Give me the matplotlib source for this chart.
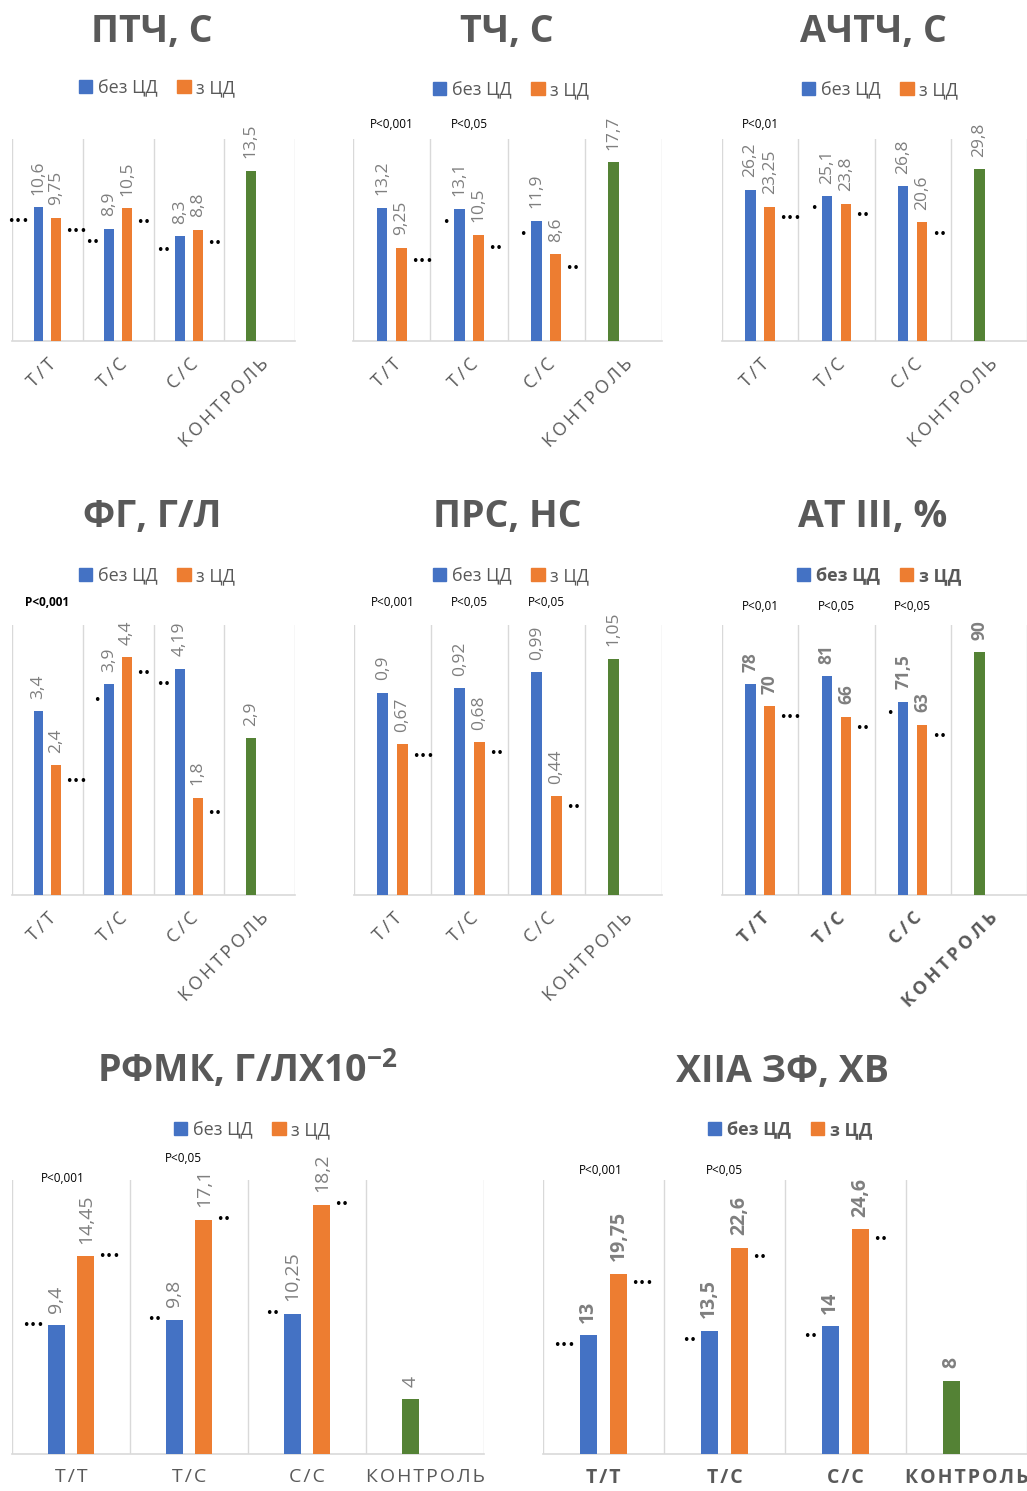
import numpy as np
import matplotlib.pyplot as plt
from matplotlib.patches import Patch

plt.rcParams['font.family'] = ['Open Sans', 'DejaVu Sans']
plt.rcParams['mathtext.fontset'] = 'custom'
plt.rcParams['mathtext.rm'] = 'Open Sans'
plt.rcParams['mathtext.bf'] = 'Open Sans:bold'

# ---- data ----
categories = ['Т/Т', 'Т/С', 'С/С', 'КОНТРОЛЬ']
series_names = ['без ЦД', 'з ЦД']

titles = ['ПТЧ, С', 'ТЧ, С', 'АЧТЧ, С',
          'ФГ, Г/Л', 'ПРС, НС', 'АТ ІІІ, %',
          r'РФМК, Г/ЛХ10$^{\mathbf{-2}}$', 'ХІІА ЗФ, ХВ']

no_dm = [[10.6, 8.9, 8.3], [13.2, 13.1, 11.9], [26.2, 25.1, 26.8],
         [3.4, 3.9, 4.19], [0.9, 0.92, 0.99], [78, 81, 71.5],
         [9.4, 9.8, 10.25], [13, 13.5, 14]]
with_dm = [[9.75, 10.5, 8.8], [9.25, 10.5, 8.6], [23.25, 23.8, 20.6],
           [2.4, 4.4, 1.8], [0.67, 0.68, 0.44], [70, 66, 63],
           [14.45, 17.1, 18.2], [19.75, 22.6, 24.6]]
control = [13.5, 17.7, 29.8, 2.9, 1.05, 90, 4, 8]
y_max = [16, 20, 35, 5, 1.2, 100, 20, 30]

# significance marks vs control
stars_no_dm = [['•••', '••', '••'], ['', '•', '•'], ['', '•', ''],
               ['', '•', '••'], ['', '', ''], ['', '', '•'],
               ['•••', '••', '••'], ['•••', '••', '••']]
stars_with_dm = [['•••', '••', '••']] * 8

# p-values between groups, per category from the first one
p_labels = [[], ['P<0,001', 'P<0,05'], ['P<0,01'], ['P<0,001'],
            ['P<0,001', 'P<0,05', 'P<0,05'], ['P<0,01', 'P<0,05', 'P<0,05'],
            ['P<0,001', 'P<0,05'], ['P<0,001', 'P<0,05']]

# ---- layout (pixels of the 1027x1491 picture) ----
W, H = 1027, 1491
axes_px = [(12, 139, 295, 341), (353, 139, 662, 341), (722, 139, 1027, 341),
           (12, 625, 295, 895), (354, 625, 662, 895), (722, 625, 1027, 895),
           (12, 1180, 484, 1454), (543, 1180, 1027, 1454)]
title_px = [(152, 42), (507, 42), (873, 42),
            (152, 527), (507, 527), (873, 527),
            (247, 1082), (783, 1082)]
legend_px = [(157, 88), (511, 90), (880, 90),
             (157, 576), (511, 576), (879, 576),
             (252, 1130), (790, 1130)]
p_dy = [[], [14, 14], [14], [22], [22, 22, 22], [19, 19, 19], [1, 22], [9, 9]]
p_dx = [[], [0, 0], [0], [0], [0, 0, 0], [0, 0, 0], [-8, -6], [-3, 0]]
star_dy = [-14, -14, -12, -16, -12, -12, 0, -10]
bold_panels = [5, 7]

blue, orange, green = '#4472C4', '#ED7D31', '#548235'
grid_c = '#d9d9d9'
text_c = '#595959'
label_c = '#7f7f7f'
off, bw = 0.125, 0.14
pt = 0.72  # points per pixel at dpi 100

fig = plt.figure(figsize=(W / 100, H / 100), dpi=100)


def box(x0, y0, x1, y1):
    return [x0 / W, 1 - y1 / H, (x1 - x0) / W, (y1 - y0) / H]


def fmt(v):
    return f'{v:g}'.replace('.', ',')


x = np.arange(len(categories))
for i in range(8):
    ax = fig.add_axes(box(*axes_px[i]))
    fw = 'bold' if i in bold_panels else 'normal'
    bottom_row = i >= 6

    bvals = no_dm[i] + [control[i]]
    ax.bar(x - off, bvals, width=bw, color=[blue] * 3 + [green], zorder=3)
    ax.bar(x[:3] + off, with_dm[i], width=bw, color=orange, zorder=3)

    ax.set_xlim(-0.5, 3.5)
    ax.set_ylim(0, y_max[i])
    ax.set_yticks([])
    ax.set_xticks(np.arange(-0.5, 4), minor=True)
    ax.grid(True, which='minor', axis='x', color=grid_c, lw=1.0)
    ax.tick_params(which='both', length=0)
    for s in ['top', 'left', 'right']:
        ax.spines[s].set_visible(False)
    ax.spines['bottom'].set_color(grid_c)
    ax.spines['bottom'].set_linewidth(1.2)

    # value labels
    lsize = 14 if bottom_row else 12.5
    xs = list(x - off) + list(x[:3] + off)
    vs = bvals + with_dm[i]
    for xx, v in zip(xs, vs):
        ax.annotate(fmt(v), (xx, v), xytext=(0, 9), textcoords='offset points',
                    rotation=90, ha='center', va='bottom', fontsize=lsize,
                    color=label_c, fontweight=fw)

    # stars
    for j in range(3):
        if stars_no_dm[i][j]:
            ax.annotate(stars_no_dm[i][j], (x[j] - off - bw / 2, no_dm[i][j]),
                        xytext=(-3, star_dy[i] * pt), textcoords='offset points',
                        ha='right', va='center', fontsize=9, color='black',
                        family='DejaVu Sans')
        if stars_with_dm[i][j]:
            ax.annotate(stars_with_dm[i][j], (x[j] + off + bw / 2, with_dm[i][j]),
                        xytext=(3, star_dy[i] * pt), textcoords='offset points',
                        ha='left', va='center', fontsize=9, color='black',
                        family='DejaVu Sans')

    # p-values
    for j, p in enumerate(p_labels[i]):
        ax.annotate(p, (x[j], 1), xycoords=('data', 'axes fraction'),
                    xytext=(p_dx[i][j] * pt, p_dy[i][j] * pt),
                    textcoords='offset points', ha='center', va='center',
                    fontsize=8.5, color='black',
                    fontweight='bold' if i == 3 else 'normal')

    # category labels
    ax.set_xticks(x)
    if bottom_row:
        spaced = ['\u200a'.join(c) for c in categories]
        ax.set_xticklabels(spaced, fontsize=14, color=text_c, fontweight=fw)
        ax.tick_params(axis='x', pad=10)
    else:
        spaced = ['\u2009'.join(c) for c in categories]
        ax.set_xticklabels(spaced, fontsize=13, color=text_c, fontweight=fw,
                           rotation=45, ha='right', va='top',
                           rotation_mode='anchor')
        ax.tick_params(axis='x', pad=10)

    # legend
    cx, cy = legend_px[i]
    handles = [Patch(color=blue, label=series_names[0]),
               Patch(color=orange, label=series_names[1])]
    leg = ax.legend(handles=handles, loc='center',
                    bbox_to_anchor=(cx / W, 1 - cy / H),
                    bbox_transform=fig.transFigure, ncol=2, frameon=False,
                    prop={'size': 13, 'weight': fw}, handlelength=0.75,
                    handleheight=0.75, handletextpad=0.3, columnspacing=1.1,
                    borderaxespad=0, borderpad=0)
    for t in leg.get_texts():
        t.set_color(text_c)

    tx, ty = title_px[i]
    fig.text(tx / W, 1 - ty / H, titles[i], ha='center', va='baseline',
             fontsize=27, fontweight='bold', color=text_c)

fig.savefig('out.png', dpi=100)
